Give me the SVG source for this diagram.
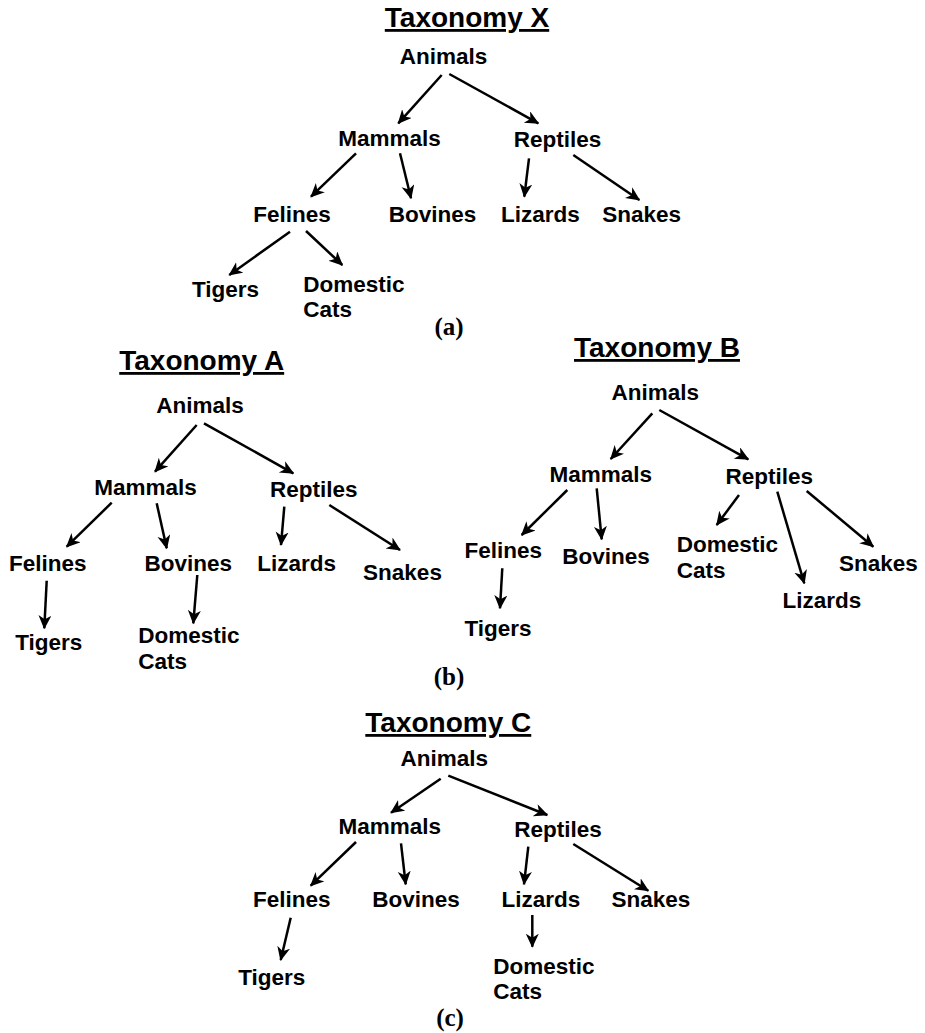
<svg xmlns="http://www.w3.org/2000/svg" width="925" height="1033" viewBox="0 0 925 1033">
<style>
  .n { font-family: "Liberation Sans", Arial, sans-serif; font-weight: bold; font-size: 22.5px; fill: #000; text-anchor: middle; }
  .l { text-anchor: start; }
  .t { font-family: "Liberation Sans", Arial, sans-serif; font-weight: bold; font-size: 28px; fill: #000; text-anchor: middle; text-decoration: underline; }
  .c { font-family: "Liberation Serif", "Times New Roman", serif; font-weight: bold; font-size: 25px; fill: #000; text-anchor: middle; }
  .e { stroke: #000; stroke-width: 2.5; fill: none; marker-end: url(#ah); }
</style>
<defs>
  <marker id="ah" markerUnits="userSpaceOnUse" markerWidth="16" markerHeight="14" refX="13" refY="6.5" orient="auto">
    <path d="M0,0 L14,6.5 L0,13 L4,6.5 Z" fill="#000"/>
  </marker>
</defs>
<rect width="925" height="1033" fill="#fff"/>

<!-- Taxonomy X -->
<g id="taxX">
  <text class="t" x="467" y="27">Taxonomy X</text>
  <g id="x-animals"><text class="n" x="443.5" y="64">Animals</text></g>
  <g id="x-mammals"><text class="n" x="389.5" y="146">Mammals</text></g>
  <g id="x-reptiles"><text class="n" x="557.5" y="147">Reptiles</text></g>
  <g id="x-felines"><text class="n" x="292" y="222">Felines</text></g>
  <g id="x-bovines"><text class="n" x="432.5" y="222">Bovines</text></g>
  <g id="x-lizards"><text class="n" x="540.5" y="222">Lizards</text></g>
  <g id="x-snakes"><text class="n" x="641.7" y="222">Snakes</text></g>
  <g id="x-tigers"><text class="n" x="225.5" y="297">Tigers</text></g>
  <g id="x-cats"><text class="n l" x="303.3" y="292">Domestic</text><text class="n l" x="303.3" y="317">Cats</text></g>
  <text class="c" x="449" y="335">(a)</text>
</g>
<g id="x-edges">
  <line class="e" x1="441.7" y1="75" x2="398.3" y2="123.3"/>
  <line class="e" x1="449.3" y1="74" x2="538.3" y2="123.3"/>
  <line class="e" x1="356" y1="153.3" x2="311" y2="196.7"/>
  <line class="e" x1="400" y1="153.3" x2="411" y2="198.3"/>
  <line class="e" x1="529" y1="158.3" x2="524.3" y2="196.7"/>
  <line class="e" x1="573.3" y1="155" x2="639.3" y2="200"/>
  <line class="e" x1="290" y1="231.7" x2="229.3" y2="275"/>
  <line class="e" x1="306" y1="231" x2="342.3" y2="265"/>
</g>

<!-- Taxonomy A -->
<g id="taxA">
  <text class="t" x="201.7" y="370">Taxonomy A</text>
  <g id="a-animals"><text class="n" x="200" y="413">Animals</text></g>
  <g id="a-mammals"><text class="n" x="145.5" y="495">Mammals</text></g>
  <g id="a-reptiles"><text class="n" x="313.7" y="497">Reptiles</text></g>
  <g id="a-felines"><text class="n" x="47.7" y="571">Felines</text></g>
  <g id="a-bovines"><text class="n" x="188.3" y="571">Bovines</text></g>
  <g id="a-lizards"><text class="n" x="296.7" y="571">Lizards</text></g>
  <g id="a-snakes"><text class="n" x="402.5" y="580">Snakes</text></g>
  <g id="a-tigers"><text class="n" x="48.8" y="650">Tigers</text></g>
  <g id="a-cats"><text class="n l" x="138.3" y="643.3">Domestic</text><text class="n l" x="138.3" y="669.3">Cats</text></g>
</g>
<g id="a-edges">
  <line class="e" x1="196.7" y1="425" x2="155" y2="471.7"/>
  <line class="e" x1="204" y1="423.3" x2="293.3" y2="473.3"/>
  <line class="e" x1="111.7" y1="502.7" x2="66.7" y2="546.7"/>
  <line class="e" x1="156.7" y1="503.3" x2="166.7" y2="548.3"/>
  <line class="e" x1="284.3" y1="506.7" x2="281" y2="545"/>
  <line class="e" x1="329.3" y1="505" x2="400" y2="550"/>
  <line class="e" x1="46.7" y1="580.7" x2="44.3" y2="628.3"/>
  <line class="e" x1="197.3" y1="575" x2="193.3" y2="623.3"/>
</g>

<!-- Taxonomy B -->
<g id="taxB">
  <text class="t" x="657" y="357">Taxonomy B</text>
  <g id="b-animals"><text class="n" x="655.3" y="400">Animals</text></g>
  <g id="b-mammals"><text class="n" x="600.8" y="482">Mammals</text></g>
  <g id="b-reptiles"><text class="n" x="769.3" y="484">Reptiles</text></g>
  <g id="b-felines"><text class="n" x="503.3" y="558">Felines</text></g>
  <g id="b-bovines"><text class="n" x="606" y="564">Bovines</text></g>
  <g id="b-cats"><text class="n l" x="676.7" y="552">Domestic</text><text class="n l" x="676.7" y="578">Cats</text></g>
  <g id="b-snakes"><text class="n" x="878.3" y="571">Snakes</text></g>
  <g id="b-lizards"><text class="n" x="822" y="608">Lizards</text></g>
  <g id="b-tigers"><text class="n" x="498" y="636">Tigers</text></g>
</g>
<g id="b-edges">
  <line class="e" x1="652.3" y1="413.3" x2="610.7" y2="459"/>
  <line class="e" x1="659.3" y1="410" x2="748.3" y2="459.3"/>
  <line class="e" x1="567.3" y1="490" x2="521.7" y2="535"/>
  <line class="e" x1="596.7" y1="488.3" x2="601.7" y2="539.3"/>
  <line class="e" x1="739" y1="495" x2="716.7" y2="525"/>
  <line class="e" x1="777.3" y1="491.7" x2="804.3" y2="583.3"/>
  <line class="e" x1="806.7" y1="491" x2="873.3" y2="546.7"/>
  <line class="e" x1="502.3" y1="568.3" x2="500" y2="608.3"/>
</g>
<text class="c" x="449" y="685">(b)</text>

<!-- Taxonomy C -->
<g id="taxC">
  <text class="t" x="448.3" y="732">Taxonomy C</text>
  <g id="c-animals"><text class="n" x="444.3" y="766">Animals</text></g>
  <g id="c-mammals"><text class="n" x="389.8" y="834">Mammals</text></g>
  <g id="c-reptiles"><text class="n" x="558" y="837">Reptiles</text></g>
  <g id="c-felines"><text class="n" x="291.7" y="907">Felines</text></g>
  <g id="c-bovines"><text class="n" x="416" y="907">Bovines</text></g>
  <g id="c-lizards"><text class="n" x="540.8" y="907">Lizards</text></g>
  <g id="c-snakes"><text class="n" x="650.8" y="907">Snakes</text></g>
  <g id="c-tigers"><text class="n" x="271.7" y="985">Tigers</text></g>
  <g id="c-cats"><text class="n l" x="493.3" y="974">Domestic</text><text class="n l" x="493.3" y="999">Cats</text></g>
  <text class="c" x="450" y="1026">(c)</text>
</g>
<g id="c-edges">
  <line class="e" x1="440.7" y1="778.7" x2="391" y2="812.7"/>
  <line class="e" x1="448.3" y1="775.7" x2="547.3" y2="815"/>
  <line class="e" x1="356" y1="842" x2="310.7" y2="885.7"/>
  <line class="e" x1="401" y1="843.3" x2="405.7" y2="884.3"/>
  <line class="e" x1="528.3" y1="846.7" x2="524" y2="884.3"/>
  <line class="e" x1="573.3" y1="844" x2="648.3" y2="890.7"/>
  <line class="e" x1="290.7" y1="917.7" x2="280.7" y2="960"/>
  <line class="e" x1="532.3" y1="915" x2="532.3" y2="946.7"/>
</g>
</svg>
